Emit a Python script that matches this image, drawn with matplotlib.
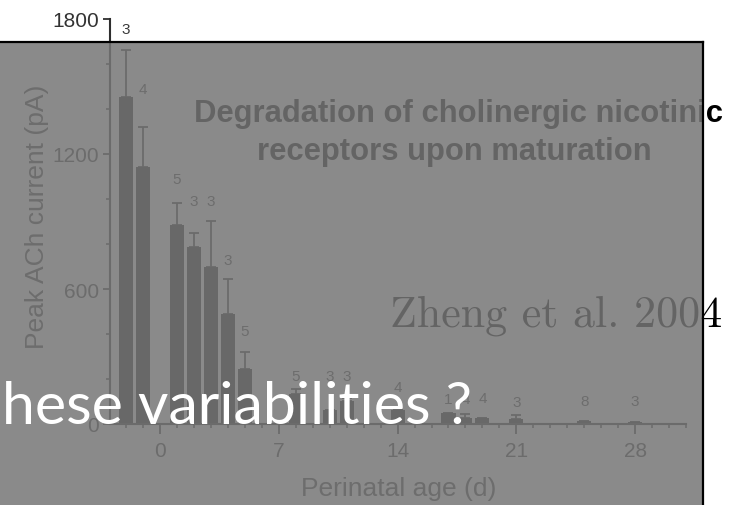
import matplotlib
matplotlib.use('Agg')
import matplotlib.pyplot as plt
from matplotlib.patches import Rectangle
from matplotlib.ticker import MultipleLocator, FixedLocator

# ---- data ----
days = [-2, -1, 1, 2, 3, 4, 5, 8, 10, 11, 14, 17, 18, 19, 21, 25, 28]
peak_current = [1453, 1142, 886, 787, 699, 489, 244, 133, 62, 102, 62, 48, 27, 27, 22, 13, 10]
sem = [209, 178, 96, 62, 203, 155, 77, 22, 0, 15, 0, 0, 17, 0, 18, 0, 0]
n_cells = ['3', '4', '5', '3', '3', '3', '5', '5', '3', '3', '4', '1', '4', '4', '3', '8', '3']
n_label_y = [1756, 1489, 1089, 991, 991, 729, 413, 213, 213, 213, 164, 111, 111, 115, 98, 102, 102]
x_ticks = [0, 7, 14, 21, 28]
y_ticks = [0, 600, 1200, 1800]
title_lines = ['Degradation of cholinergic nicotinic', 'receptors upon maturation']
citation = 'Zheng et al. 2004'
overlay_text = 'hese variabilities ?'
x_label = 'Perinatal age (d)'
y_label = 'Peak ACh current (pA)'

W, H = 733, 506
fig = plt.figure(figsize=(W / 100, H / 100), dpi=100)
fig.patch.set_facecolor('white')

ink = '#2e2e2e'
sans = ['Liberation Sans', 'DejaVu Sans']

ax = fig.add_axes([110 / W, 1 - 425 / H, (686 - 110) / W, (425 - 20) / H])
ax.set_facecolor('none')
ax.bar(days, peak_current, width=0.83, color='#1e1e1e', zorder=2)
ax.errorbar(days, peak_current, yerr=[[0] * len(sem), sem], fmt='none',
            ecolor=ink, elinewidth=1.3, capsize=3.6, capthick=1.3, zorder=1)
for d, lab, ly in zip(days, n_cells, n_label_y):
    ax.text(d, ly, lab, ha='center', va='center', fontsize=11, color='#3a3a3a',
            family=sans, clip_on=False)

ax.set_xlim(-2.95, 31)
ax.set_ylim(0, 1800)
for s in ['top', 'right']:
    ax.spines[s].set_visible(False)
for s in ['left', 'bottom']:
    ax.spines[s].set_color(ink)
    ax.spines[s].set_linewidth(1.5)
ax.xaxis.set_major_locator(FixedLocator(x_ticks))
ax.xaxis.set_minor_locator(MultipleLocator(1))
ax.yaxis.set_major_locator(FixedLocator(y_ticks))
ax.yaxis.set_minor_locator(MultipleLocator(200))
ax.tick_params(axis='x', which='major', length=7, width=1.3, pad=5.5, colors=ink,
               labelsize=15)
ax.tick_params(axis='x', which='minor', length=3, width=1.1, colors=ink)
ax.tick_params(axis='y', which='major', length=5, width=1.3, pad=3, colors=ink,
               labelsize=15)
ax.tick_params(axis='y', which='minor', length=3, width=1.1, colors=ink)
for lbl in ax.get_xticklabels() + ax.get_yticklabels():
    lbl.set_family(sans)
    lbl.set_color('#333333')

fig.text(37 / W, 1 - 217 / H, y_label, rotation=90, ha='center', va='center',
         fontsize=19, color='#3a3a3a', family=sans)
fig.text(399 / W, 1 - 489 / H, x_label, ha='center', va='center',
         fontsize=19, color='#3a3a3a', family=sans)

# title and citation (under the overlay)
fig.text(458 / W, 1 - 122 / H, title_lines[0], ha='center', va='baseline',
         fontsize=22.3, fontweight='bold', color='black', family=sans, zorder=1)
fig.text(454 / W, 1 - 160 / H, title_lines[1], ha='center', va='baseline',
         fontsize=22.3, fontweight='bold', color='black', family=sans, zorder=1)
fig.text(390 / W, 1 - 327 / H, citation, ha='left', va='baseline',
         fontsize=31.7, color='black', family=['cmr10', 'DejaVu Serif'], zorder=1)

# grey overlay with black border
ov_right = 703 / W
ov_top = 1 - 43 / H
fig.patches.append(Rectangle((0, 0), ov_right, ov_top, transform=fig.transFigure,
                             facecolor='#767676', alpha=0.855, edgecolor='none',
                             zorder=5))
fig.lines.append(plt.Line2D([0, ov_right], [ov_top, ov_top], transform=fig.transFigure,
                            color='black', lw=1.6, zorder=6))
fig.lines.append(plt.Line2D([ov_right, ov_right], [0, ov_top], transform=fig.transFigure,
                            color='black', lw=1.6, zorder=6))

fig.text(2 / W, 1 - 424 / H, overlay_text, ha='left', va='baseline', fontsize=42.5,
         color='white', family=['Lato', 'DejaVu Sans'], zorder=10)

fig.savefig('out.png', dpi=100)
